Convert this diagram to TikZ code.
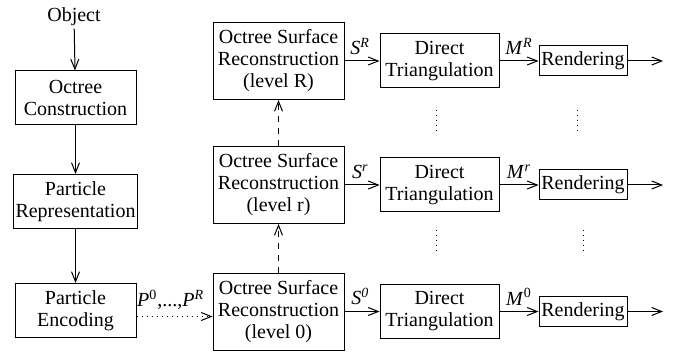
\documentclass[tikz,border=0pt]{standalone}
\usepackage{fontspec}
\setmainfont{Liberation Serif}
\usetikzlibrary{arrows.meta}
\tikzset{
every picture/.style={line width=0.5pt, >={Straight Barb[length=5pt,width=4pt]}},
%%%%%%%%%%  Node styles
block/.style={draw, align=center, inner sep=1pt,
              font=\fontsize{10}{11}\selectfont},
stage/.style={block, minimum width=60.5pt, minimum height=27pt},
surface/.style={block, minimum width=65.5pt, minimum height=38.5pt},
triangulation/.style={block, minimum width=59.5pt, minimum height=27pt},
render/.style={block, minimum width=44pt, minimum height=15pt},
arrowlabel/.style={font=\fontsize{10}{11}\selectfont, inner sep=1pt},
%%%% different line styles:
levelup/.style={dash pattern=on 3pt off 3pt},
skipped/.style={dotted}
}
\newcommand{\sym}[2]{\textit{#1}\textsuperscript{#2}}

\begin{document}
\begin{tikzpicture}[x=0.5pt,y=-0.5pt]
\useasboundingbox (0,0) rectangle (679,352);
%%%%%%% left column
\node[arrowlabel] (obj) at (74,17) {Object};
\node[stage] (oc) at (75.5,98) {Octree\\Construction};
\node[stage] (pr) at (75.5,201.5) {Particle\\Representation};
\node[stage] (pe) at (75.5,310.5) {Particle\\Encoding};
\draw[->] (obj) -- (oc);
\draw[->] (oc) -- (pr);
\draw[->] (pr) -- (pe);
%%%%%%% reconstruction levels
\node[surface] (osrR) at (278.5,61) {Octree Surface\\Reconstruction\\(level R)};
\node[surface] (osrr) at (278.5,185) {Octree Surface\\Reconstruction\\(level r)};
\node[surface] (osr0) at (278.5,311.5) {Octree Surface\\Reconstruction\\(level 0)};
\draw[levelup,->] (osr0) -- (osrr);
\draw[levelup,->] (osrr) -- (osrR);
\draw[skipped,->] ([yshift=-3pt]pe.east) -- ([yshift=-3pt]pe.east -| osr0.west)
   node[pos=0.45,above=2pt,arrowlabel] {\sym{P}{0},...,\sym{P}{\textit{R}}};
%%%%%%% triangulation and rendering
\node[triangulation] (dtR) at (439.5,61) {Direct\\Triangulation};
\node[triangulation] (dtr) at (439.5,185) {Direct\\Triangulation};
\node[triangulation] (dt0) at (439.5,311.5) {Direct\\Triangulation};
\node[render] (reR) at (583,61) {Rendering};
\node[render] (rer) at (583,185) {Rendering};
\node[render] (re0) at (583,311.5) {Rendering};
\coordinate (outR) at (663,61);
\coordinate (outr) at (663,185);
\coordinate (out0) at (663,311.5);
\draw[->] (osrR) -- (dtR) node[pos=0.45,above=2pt,arrowlabel] {\sym{S}{\textit{R}}};
\draw[->] (osrr) -- (dtr) node[pos=0.45,above=2pt,arrowlabel] {\sym{S}{\textit{r}}};
\draw[->] (osr0) -- (dt0) node[pos=0.45,above=2pt,arrowlabel] {\sym{S}{\textit{0}}};
\draw[->] (dtR) -- (reR) node[pos=0.5,above=2pt,arrowlabel] {\sym{M}{\textit{R}}};
\draw[->] (dtr) -- (rer) node[pos=0.5,above=2pt,arrowlabel] {\sym{M}{\textit{r}}};
\draw[->] (dt0) -- (re0) node[pos=0.5,above=2pt,arrowlabel] {\sym{M}{0}};
\draw[->] (reR) -- (outR);
\draw[->] (rer) -- (outr);
\draw[->] (re0) -- (out0);
%%%%%%% skipped levels
\draw[skipped] (436,110) -- (436,135);
\draw[skipped] (436,230) -- (436,255);
\draw[skipped] (577,110) -- (577,135);
\draw[skipped] (583,230) -- (583,255);
\end{tikzpicture}
\end{document}
